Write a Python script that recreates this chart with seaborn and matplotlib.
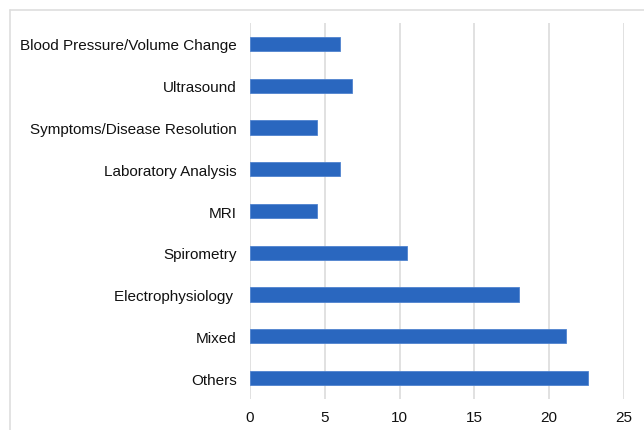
import matplotlib
matplotlib.use("Agg")
import matplotlib.pyplot as plt
import matplotlib.lines as mlines
import seaborn as sns
import pandas as pd

methods = [
    "Blood Pressure/Volume Change",
    "Ultrasound",
    "Symptoms/Disease Resolution",
    "Laboratory Analysis",
    "MRI",
    "Spirometry",
    "Electrophysiology ",
    "Mixed",
    "Others",
]
counts = [6.0, 6.8, 4.5, 6.0, 4.5, 10.5, 18.0, 21.1, 22.6]
xticks = [0, 5, 10, 15, 20, 25]

BAR_COLOR = "#2a67bf"
GRID_COLOR = "#d9d9d9"

sns.set_theme(style="white")
plt.rcParams["font.family"] = ["Liberation Sans", "DejaVu Sans"]

df = pd.DataFrame({"method": methods, "count": counts})

fig = plt.figure(figsize=(6.44, 4.31), dpi=100)
ax = fig.add_axes([250 / 644, 1 - 400 / 431, 374 / 644, 376 / 431])

sns.barplot(data=df, x="count", y="method", orient="h", color=BAR_COLOR,
            saturation=1, width=0.34, ax=ax, edgecolor="#4f83cf", linewidth=0.6)

ax.set_xlim(0, 25)
ax.set_ylim(8.5, -0.5)
ax.set_xticks(xticks)
ax.set_xticklabels([str(t) for t in xticks])
ax.xaxis.grid(True, color=GRID_COLOR, linewidth=1.1)
ax.set_axisbelow(True)
for s in ax.spines.values():
    s.set_visible(False)
ax.set_xlabel("")
ax.set_ylabel("")
ax.tick_params(axis="both", length=0, labelsize=11, labelcolor="#111111")
ax.tick_params(axis="y", pad=9.5)
ax.tick_params(axis="x", pad=8)

# light frame around the chart area (cropped on right and bottom)
fig.add_artist(mlines.Line2D([10 / 644, 10 / 644], [0, 1 - 11 / 431],
                             color="#dedede", linewidth=1.2))
fig.add_artist(mlines.Line2D([10 / 644, 1], [1 - 11 / 431, 1 - 11 / 431],
                             color="#dedede", linewidth=1.2))

fig.savefig("out.png", dpi=100)
plt.close(fig)
